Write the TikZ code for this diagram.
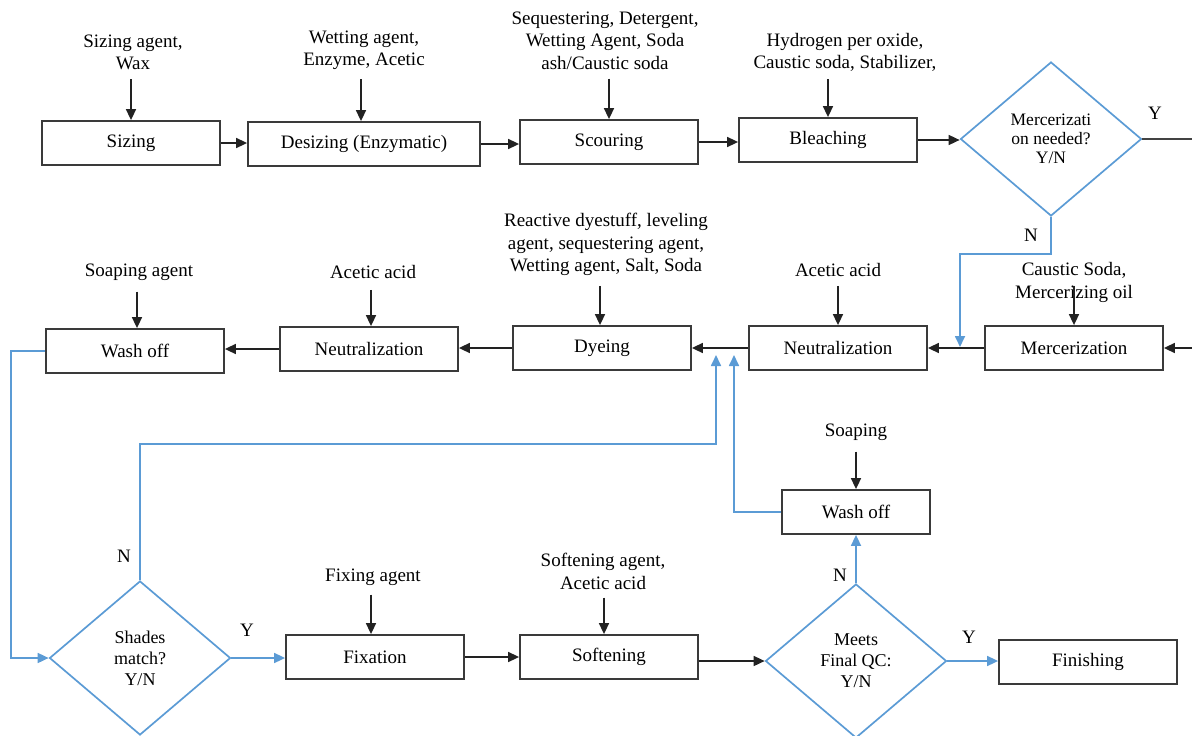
\documentclass[tikz,border=0pt]{standalone}
\usepackage{fontspec}
\setmainfont{Liberation Serif}
\usetikzlibrary{shapes.geometric,arrows.meta,calc}
\definecolor{bl}{HTML}{5B9BD5}
\definecolor{dk}{HTML}{222222}
\definecolor{bx}{HTML}{3A3A3A}
\begin{document}
\begin{tikzpicture}[x=1pt,y=-1pt,
 box/.style={draw=bx, line width=1.8pt, minimum width=178pt, minimum height=44pt, inner sep=0pt, font=\fontsize{19}{22.5}\selectfont},
 lab/.style={align=center, font=\fontsize{19}{22.5}\selectfont, inner sep=0pt},
 dec/.style={diamond, draw=bl, line width=1.7pt, minimum width=181pt, minimum height=154pt, aspect=1.175, inner sep=0pt, align=center, font=\fontsize{18}{21}\selectfont},
 arr/.style={draw=dk, line width=1.6pt, -{Triangle[length=11pt,width=10pt]}},
 pline/.style={draw=dk!85, line width=1.6pt},
 barr/.style={draw=bl, line width=1.7pt, -{Triangle[length=11pt,width=10pt]}},
 yn/.style={font=\fontsize{19}{22}\selectfont, inner sep=0pt}]
\useasboundingbox (0,0) rectangle (1192,736);

% row 1
\node[box] (sizing) at (131,143) {Sizing};
\node[box, minimum width=232pt] (desizing) at (364,144) {Desizing (Enzymatic)};
\node[box] (scouring) at (609,142) {Scouring};
\node[box] (bleaching) at (828,140) {Bleaching};
\node[dec, font=\fontsize{17.5}{19}\selectfont] (d1) at (1051,139) {Mercerizati\\on needed?\\Y/N};

\node[lab] (l1) at (133,52.5) {Sizing agent,\\Wax};
\node[lab] (l2) at (364,50.5) {Wetting agent,\\Enzyme, Acetic};
\node[lab] (l3) at (605,40.5) {Sequestering, Detergent,\\Wetting Agent, Soda\\ash/Caustic soda};
\node[lab] (l4) at (845,52.5) {Hydrogen per oxide,\\Caustic soda, Stabilizer,};

% row 2
\node[box] (merc) at (1074,348) {Mercerization};
\node[box] (neutR) at (838,348) {Neutralization};
\node[box] (dyeing) at (602,348) {Dyeing};
\node[box] (neutL) at (369,349) {Neutralization};
\node[box] (wash1) at (135,351) {Wash off};

\node[lab] (l5) at (1074,282.5) {Caustic Soda,\\Mercerizing oil};
\node[lab] (l6) at (838,270) {Acetic acid};
\node[lab] (l7) at (606,244.5) {Reactive dyestuff, leveling\\agent, sequestering agent,\\Wetting agent, Salt, Soda};
\node[lab] (l8) at (373,272) {Acetic acid};
\node[lab] (l9) at (139,272) {Soaping agent};

% row 3
\node[dec] (d2) at (140,658) {Shades\\match?\\Y/N};
\node[box] (fix) at (375,657) {Fixation};
\node[box] (soft) at (609,657) {Softening};
\node[dec] (d3) at (856,661) {Meets\\Final QC:\\Y/N};
\node[box] (finish) at (1088,662) {Finishing};
\node[box, minimum width=148pt] (wash2) at (856,512) {Wash off};

\node[lab] (l10) at (373,577) {Fixing agent};
\node[lab] (l11) at (603,571.5) {Softening agent,\\Acetic acid};
\node[lab] (l12) at (856,432) {Soaping};

% Y/N labels
\node[yn] (y1) at (1155,113) {Y};
\node[yn] (n1) at (1031,235) {N};
\node[yn] (n2) at (124,556) {N};
\node[yn] (y2) at (247,630) {Y};
\node[yn] (n3) at (840,575) {N};
\node[yn] (y3) at (969,637) {Y};

% edge coordinates and junctions
\coordinate (r1) at (1192,139);
\coordinate (r2) at (1192,348);
\coordinate (j1) at (960,347);
\coordinate (j2) at (716,355);
\coordinate (j3) at (734,355);

% ingredient arrows
\draw[arr] ($(l1.south -| sizing.north)+(0,9)$) -- (sizing.north);
\draw[arr] ($(l2.south -| desizing.north)+(-3,9)$) -- ($(desizing.north)+(-3,0)$);
\draw[arr] ($(l3.south -| scouring.north)+(0,9)$) -- (scouring.north);
\draw[arr] ($(l4.south -| bleaching.north)+(0,7)$) -- (bleaching.north);
\draw[arr] ($(l5.south -| merc.north)+(0,-17)$) -- (merc.north);
\draw[arr] ($(l6.south -| neutR.north)+(0,9)$) -- (neutR.north);
\draw[arr] ($(l7.south -| dyeing.north)+(-2,10)$) -- ($(dyeing.north)+(-2,0)$);
\draw[arr] ($(l8.south -| neutL.north)+(2,11)$) -- ($(neutL.north)+(2,0)$);
\draw[arr] ($(l9.south -| wash1.north)+(2,11)$) -- ($(wash1.north)+(2,0)$);
\draw[arr] ($(l10.south -| fix.north)+(-4,9)$) -- ($(fix.north)+(-4,0)$);
\draw[arr] ($(l11.south -| soft.north)+(-5,8)$) -- ($(soft.north)+(-5,0)$);
\draw[arr] ($(l12.south -| wash2.north)+(0,11)$) -- (wash2.north);

% main black flow
\draw[arr] (sizing.east) -- (sizing.east -| desizing.west);
\draw[arr] (desizing.east) -- (desizing.east -| scouring.west);
\draw[arr] (scouring.east) -- (scouring.east -| bleaching.west);
\draw[arr] (bleaching.east) -- (bleaching.east -| d1.west);
\draw[pline] (d1.east) -- (r1);
\draw[arr] (r2) -- (merc.east);
\draw[arr] (merc.west) -- (neutR.east);
\draw[arr] (neutR.west) -- (dyeing.east);
\draw[arr] (dyeing.west) -- (dyeing.west -| neutL.east);
\draw[arr] (neutL.west) -- (neutL.west -| wash1.east);
\draw[arr] (fix.east) -- (fix.east -| soft.west);
\draw[arr] (soft.east |- d3.west) -- (d3.west);

% blue flow
\draw[barr] (d1.south) -- ++(0,37) -| (j1);
\draw[barr] (wash1.west) -- ++(-34,0) |- (d2.west);
\draw[barr] (d2.north) -- ++(0,-136) -| (j2);
\draw[barr] (wash2.west) -| (j3);
\draw[barr] (d3.north) -- (wash2.south);
\draw[barr] (d2.east) -- (d2.east -| fix.west);
\draw[barr] (d3.east) -- (d3.east -| finish.west);
\end{tikzpicture}
\end{document}
